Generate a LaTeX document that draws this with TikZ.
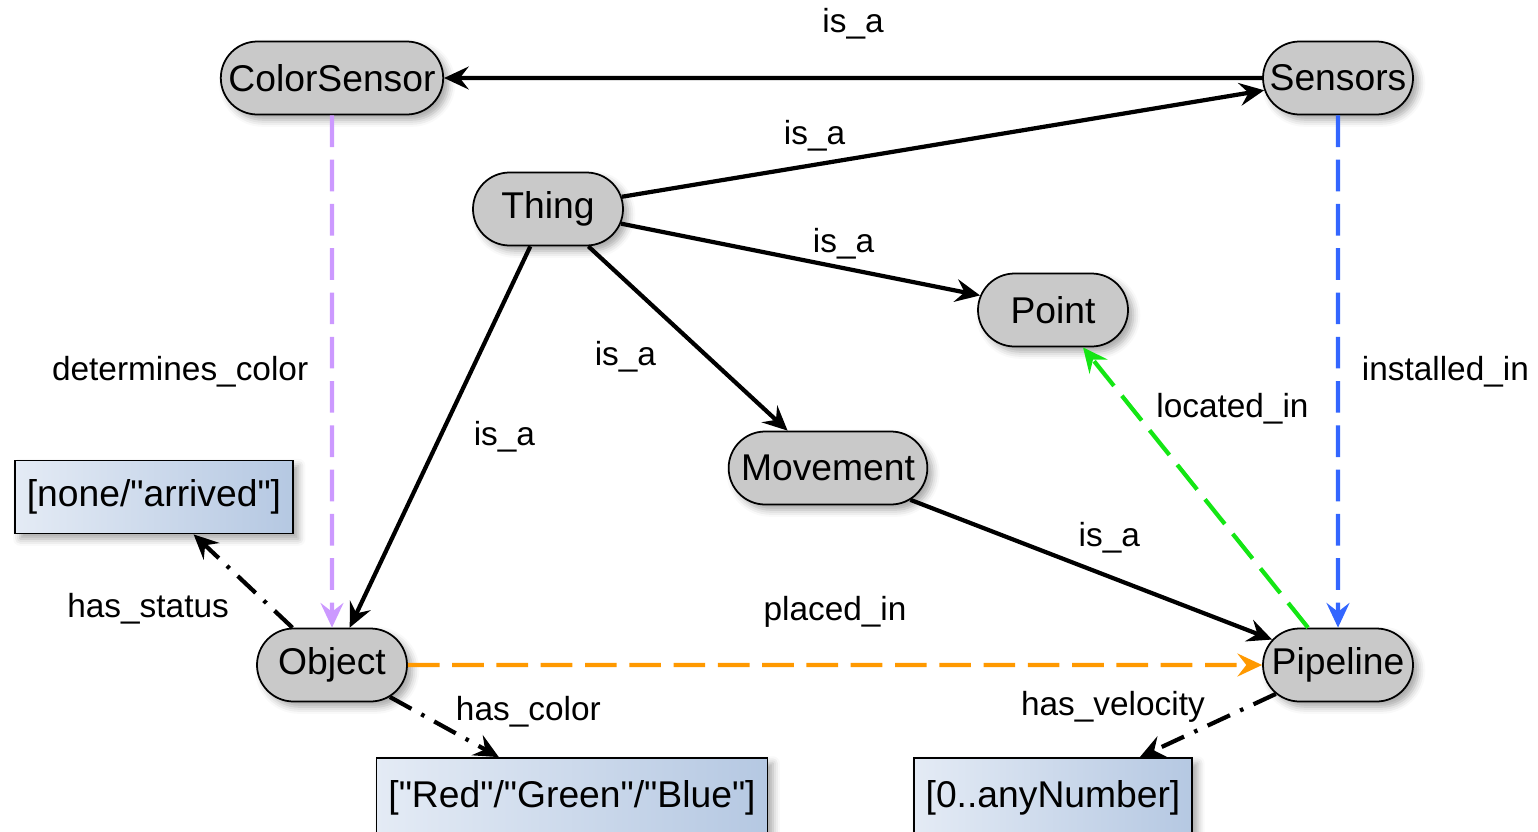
\documentclass[tikz,border=0pt]{standalone}
\usepackage{fontspec}
\setmainfont{Liberation Sans}
\usepackage{xcolor}
\usepackage{tikz}
\usetikzlibrary{arrows.meta,shapes.misc,shadows.blur}

\definecolor{conceptgray}{RGB}{201,201,201}
\definecolor{valueleft}{RGB}{228,235,245}
\definecolor{valueright}{RGB}{181,200,226}
\definecolor{colorpurple}{RGB}{204,153,255}
\definecolor{installblue}{RGB}{51,102,255}
\definecolor{locgreen}{RGB}{20,230,20}
\definecolor{placeorange}{RGB}{255,153,0}

\newcommand{\qt}{\textquotedbl}

\begin{document}
\begin{tikzpicture}
        % Define styles
        \tikzset{
            concept/.style={rounded rectangle, draw, fill=conceptgray, line width=0.5pt, minimum height=0.73cm, minimum width=1.6cm, inner xsep=0.5mm, font=\fontsize{10.6}{12}\selectfont, blur shadow={shadow xshift=1.5pt, shadow yshift=-1.5pt, shadow blur radius=2pt, shadow opacity=35}},
            value/.style={rectangle, draw, left color=valueleft, right color=valueright, line width=0.5pt, minimum height=0.73cm, inner xsep=1.2mm, font=\fontsize{10.6}{12}\selectfont, blur shadow={shadow xshift=1.5pt, shadow yshift=-1.5pt, shadow blur radius=2pt, shadow opacity=35}},
            lbl/.style={font=\fontsize{9.5}{11}\selectfont},
            arrow/.style={line width=1.2pt, -{Stealth[length=7pt, width=6.5pt, inset=2.5pt]}},
            dasharrow/.style={arrow, dash pattern=on 9pt off 3.6pt},
            dotarrow/.style={arrow, dash pattern=on 7pt off 3.2pt on 1pt off 3.2pt}
        }
        \useasboundingbox (0,0) rectangle (15.38,-8.31);

        % Nodes
        \node[concept] (color_sensor_node) at (3.32,-0.78) {ColorSensor};
        \node[concept] (sensors_node) at (13.38,-0.78) {Sensors};
        \node[concept] (thing_node) at (5.48,-2.09) {Thing};
        \node[concept] (point_node) at (10.53,-3.10) {Point};
        \node[concept, inner xsep=1mm] (movement_node) at (8.28,-4.68) {Movement};
        \node[concept] (object_node) at (3.32,-6.65) {Object};
        \node[concept] (pipeline_node) at (13.38,-6.65) {Pipeline};

        \node[value] (status_node) at (1.54,-4.97) {[none/\qt arrived\qt]};
        \node[value, minimum height=0.79cm] (color_node) at (5.72,-7.975) {[\qt Red\qt/\qt Green\qt/\qt Blue\qt]};
        \node[value, minimum height=0.79cm] (velocity_node) at (10.53,-7.975) {[0..anyNumber]};

        % Arrows
        \draw[arrow] (sensors_node) -- (color_sensor_node) node[lbl, midway, above=2.5mm] {is\_a};
        \draw[arrow] (thing_node) -- (sensors_node) node[lbl, pos=.3, above] {is\_a};
        \draw[arrow] (thing_node) -- (point_node) node[lbl, pos=.62, above=-0.5mm] {is\_a};
        \draw[arrow] (thing_node) -- (movement_node) node[lbl, pos=.6, left=3.8mm] {is\_a};
        \draw[arrow] (thing_node) -- (object_node) node[lbl, midway, right=2mm] {is\_a};
        \draw[arrow] (movement_node) -- (pipeline_node) node[lbl, pos=.55, above=1mm] {is\_a};

        \draw[dasharrow, draw=colorpurple] (color_sensor_node) -- (object_node) node[lbl, midway, left=1mm] {determines\_color};
        \draw[dasharrow, draw=installblue] (sensors_node) -- (pipeline_node) node[lbl, midway, right=1mm] {installed\_in};
        \draw[dasharrow, draw=locgreen] (pipeline_node) -- (point_node) node[lbl, pos=.78, right=1mm] {located\_in};
        \draw[dasharrow, draw=placeorange] (object_node) -- (pipeline_node) node[lbl, midway, above=2.4mm] {placed\_in};

        \draw[dotarrow] (object_node) -- (status_node) node[lbl, pos=.2, left=3mm] {has\_status};
        \draw[dotarrow] (object_node) -- (color_node) node[lbl, pos=.25, right=2.5mm] {has\_color};
        \draw[dotarrow] (pipeline_node) -- (velocity_node) node[lbl, pos=.2, left=3mm] {has\_velocity};
    \end{tikzpicture}
\end{document}
